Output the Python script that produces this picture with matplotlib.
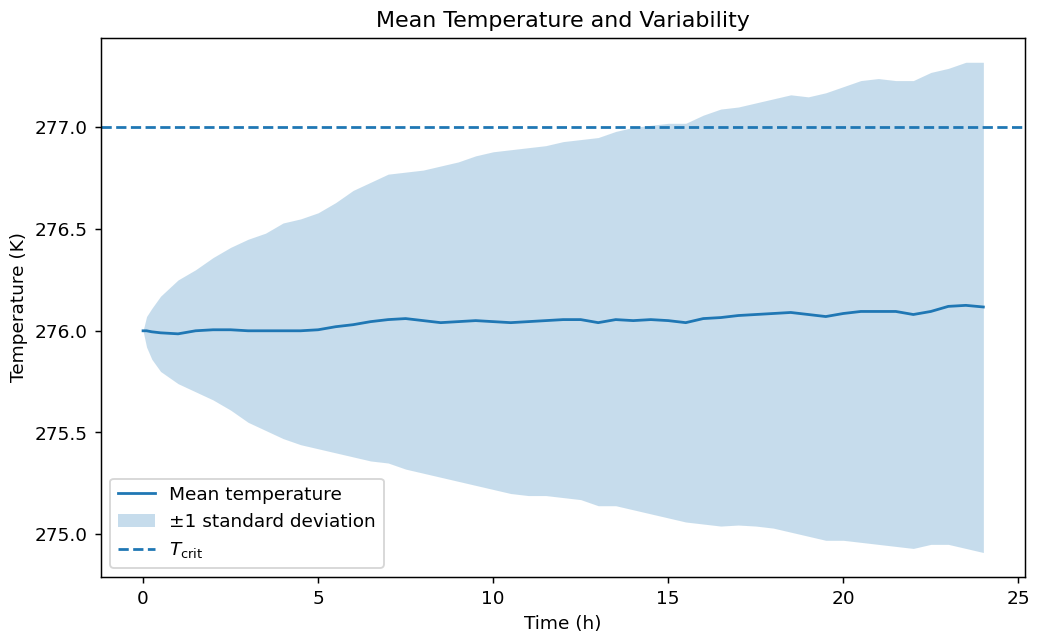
import numpy as np
import matplotlib
matplotlib.use("Agg")
import matplotlib.pyplot as plt

# Tiempo (h) y valores
time_h = [0, 0.1, 0.25, 0.5, 1.0, 1.5, 2.0, 2.5, 3.0, 3.5, 4.0, 4.5, 5.0, 5.5,
          6.0, 6.5, 7.0, 7.5, 8.0, 8.5, 9.0, 9.5, 10.0, 10.5, 11.0, 11.5,
          12.0, 12.5, 13.0, 13.5, 14.0, 14.5, 15.0, 15.5, 16.0, 16.5, 17.0,
          17.5, 18.0, 18.5, 19.0, 19.5, 20.0, 20.5, 21.0, 21.5, 22.0, 22.5,
          23.0, 23.5, 24.0]

mean_T = [276.00, 276.00, 275.995, 275.99, 275.985, 276.0, 276.005, 276.005,
          276.0, 276.0, 276.0, 276.0, 276.005, 276.02, 276.03, 276.045,
          276.055, 276.06, 276.05, 276.04, 276.045, 276.05, 276.045, 276.04,
          276.045, 276.05, 276.055, 276.055, 276.04, 276.055, 276.05,
          276.055, 276.05, 276.04, 276.06, 276.065, 276.075, 276.08, 276.085,
          276.09, 276.08, 276.07, 276.085, 276.095, 276.095, 276.095, 276.08,
          276.095, 276.12, 276.125, 276.117]

upper_T = [276.0, 276.07, 276.11, 276.17, 276.25, 276.30, 276.36, 276.41,
           276.45, 276.48, 276.53, 276.55, 276.58, 276.63, 276.69, 276.73,
           276.77, 276.78, 276.79, 276.81, 276.83, 276.86, 276.88, 276.89,
           276.90, 276.91, 276.93, 276.94, 276.95, 276.98, 277.00, 277.01,
           277.02, 277.02, 277.06, 277.09, 277.10, 277.12, 277.14, 277.16,
           277.15, 277.17, 277.20, 277.23, 277.24, 277.23, 277.23, 277.27,
           277.29, 277.32, 277.32]

lower_T = [276.0, 275.92, 275.86, 275.80, 275.74, 275.70, 275.66, 275.61,
           275.55, 275.51, 275.47, 275.44, 275.42, 275.40, 275.38, 275.36,
           275.35, 275.32, 275.30, 275.28, 275.26, 275.24, 275.22, 275.20,
           275.19, 275.19, 275.18, 275.17, 275.14, 275.14, 275.12, 275.10,
           275.08, 275.06, 275.05, 275.04, 275.045, 275.04, 275.03, 275.01,
           274.99, 274.97, 274.97, 274.96, 274.95, 274.94, 274.93, 274.95,
           274.95, 274.93, 274.91]

T_crit = 277.0

fig, ax = plt.subplots(figsize=(7.8, 4.82), dpi=133)
fig.subplots_adjust(left=0.0974, right=0.9884, top=0.941, bottom=0.0998)

ax.plot(time_h, mean_T, color="C0", label="Mean temperature")
ax.fill_between(time_h, lower_T, upper_T, color="C0", alpha=0.25, lw=0,
                label="±1 standard deviation")
ax.axhline(T_crit, color="C0", ls="--", label=r"$T_{\mathrm{crit}}$")

ax.set_title("Mean Temperature and Variability")
ax.set_xlabel("Time (h)")
ax.set_ylabel("Temperature (K)")
ax.legend(loc="lower left")

fig.savefig("out.png", dpi=133)
